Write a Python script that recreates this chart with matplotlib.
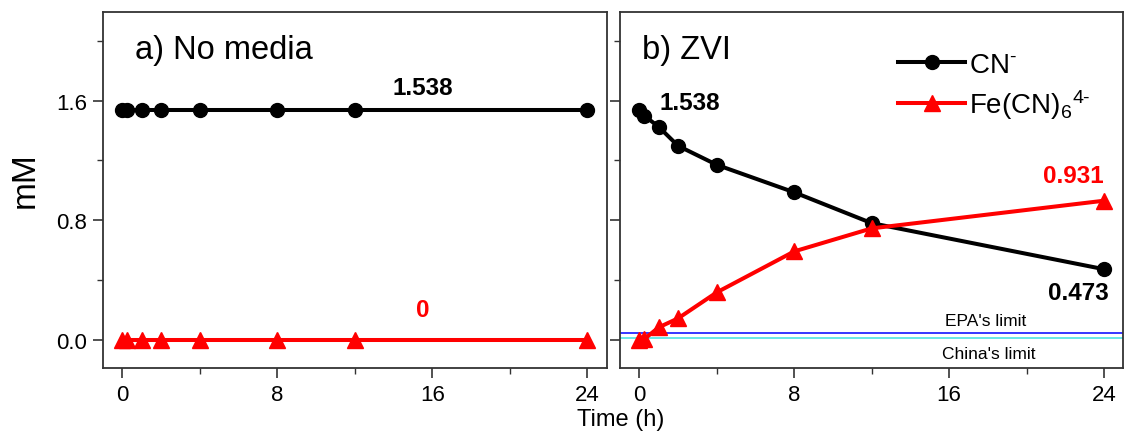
import matplotlib.pyplot as plt
from matplotlib.ticker import MultipleLocator

plt.rcParams['font.family'] = ['Liberation Sans', 'DejaVu Sans']
plt.rcParams['mathtext.fontset'] = 'custom'
plt.rcParams['mathtext.rm'] = 'Liberation Sans'
plt.rcParams['mathtext.it'] = 'Liberation Sans:italic'
plt.rcParams['mathtext.bf'] = 'Liberation Sans:bold'

# sampling times (h)
time_h = [0, 0.25, 1, 2, 4, 8, 12, 24]

# a) No media
cn_none = [1.538, 1.538, 1.538, 1.538, 1.538, 1.538, 1.538, 1.538]
fe_none = [0, 0, 0, 0, 0, 0, 0, 0]

# b) ZVI
cn_zvi = [1.538, 1.50, 1.425, 1.298, 1.171, 0.987, 0.781, 0.473]
fe_zvi = [0.0, 0.005, 0.084, 0.144, 0.318, 0.592, 0.746, 0.931]

epa_limit = 0.044
china_limit = 0.0127

fig = plt.figure(figsize=(11.24, 4.35), dpi=100)
ax1 = fig.add_axes([0.0914, 0.151, 0.4484, 0.818])
ax2 = fig.add_axes([0.5516, 0.151, 0.4478, 0.818])

for ax in (ax1, ax2):
    ax.set_xlim(-1, 25)
    ax.set_ylim(-0.19, 2.19)
    ax.xaxis.set_major_locator(MultipleLocator(8))
    ax.xaxis.set_minor_locator(MultipleLocator(4))
    ax.yaxis.set_major_locator(MultipleLocator(0.8))
    ax.yaxis.set_minor_locator(MultipleLocator(0.4))
    ax.tick_params(which='major', direction='out', length=7, width=1.2,
                   labelsize=16, pad=4, color='#333333')
    ax.tick_params(which='minor', direction='out', length=4, width=1.0,
                   color='#333333')
    for s in ax.spines.values():
        s.set_linewidth(1.3)
        s.set_color('#333333')

ax1.yaxis.set_major_formatter(plt.FuncFormatter(lambda v, p: f'{v:.1f}'))
ax2.tick_params(axis='y', labelleft=False)

# panel a
ax1.plot(time_h, cn_none, '-o', color='black', lw=2.9, ms=10)
ax1.plot(time_h, fe_none, '-^', color='red', lw=2.9, ms=11)
ax1.text(0.66, 1.94, 'a) No media', fontsize=23.5, va='center')
ax1.text(15.5, 1.688, '1.538', fontsize=17.5, fontweight='bold', ha='center', va='center')
ax1.text(15.5, 0.206, '0', fontsize=17.5, fontweight='bold', color='red', ha='center', va='center')
ax1.set_ylabel('mM', fontsize=24)
ax1.yaxis.set_label_coords(-0.124, 0.532)

# panel b
ax2.axhline(epa_limit, color='blue', lw=1.1)
ax2.axhline(china_limit, color='#40e0e0', lw=1.1)
l1, = ax2.plot(time_h, cn_zvi, '-o', color='black', lw=2.9, ms=10, label=r'CN$^{\text{-}}$')
l2, = ax2.plot(time_h, fe_zvi, '-^', color='red', lw=2.9, ms=11, label=r'Fe(CN)$_{\text{6}}$$^{\text{4-}}$')
ax2.text(0.15, 1.94, 'b) ZVI', fontsize=23.5, va='center')
ax2.text(1.05, 1.588, '1.538', fontsize=17.5, fontweight='bold', ha='left', va='center')
ax2.text(22.4, 1.098, '0.931', fontsize=17.5, fontweight='bold', color='red', ha='center', va='center')
ax2.text(22.7, 0.318, '0.473', fontsize=17.5, fontweight='bold', ha='center', va='center')
ax2.text(17.9, 0.128, "EPA's limit", fontsize=12.5, ha='center', va='center')
ax2.text(18.05, -0.094, "China's limit", fontsize=12.5, ha='center', va='center')
ax2.legend(handles=[l1, l2], loc='upper left', bbox_to_anchor=(0.553, 0.89),
           fontsize=20, frameon=False, handlelength=2.4, handletextpad=0.15,
           labelspacing=0.35, borderpad=0, borderaxespad=0)

fig.text(0.552, 0.034, 'Time (h)', fontsize=17, ha='center', va='center')

fig.savefig('out.png', dpi=100)
